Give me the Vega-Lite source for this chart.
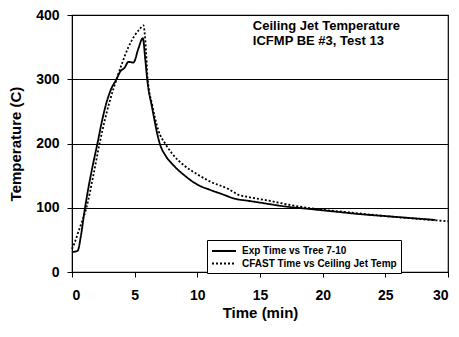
{
  "$schema": "https://vega.github.io/schema/vega-lite/v6.json",
  "width": 376,
  "height": 257,
  "autosize": "none",
  "padding": {"left": 72, "top": 15, "right": 11, "bottom": 65},
  "background": "white",
  "config": {
    "font": "Liberation Sans",
    "view": {"stroke": "black", "strokeWidth": 1.2},
    "axis": {"labelFont": "Liberation Sans", "titleFont": "Liberation Sans", "labelColor": "black", "titleColor": "black", "domainColor": "black", "tickColor": "black", "labelFontSize": 14, "labelFontWeight": "bold", "titleFontSize": 15, "titleFontWeight": "bold"}
  },
  "datasets": {
    "curves": [
      {"series": "Exp Time vs Tree 7-10", "t": 0, "T": 31},
      {"series": "Exp Time vs Tree 7-10", "t": 0.45, "T": 33},
      {"series": "Exp Time vs Tree 7-10", "t": 0.7, "T": 55},
      {"series": "Exp Time vs Tree 7-10", "t": 1.0, "T": 95},
      {"series": "Exp Time vs Tree 7-10", "t": 1.3, "T": 130},
      {"series": "Exp Time vs Tree 7-10", "t": 1.7, "T": 170},
      {"series": "Exp Time vs Tree 7-10", "t": 2.03, "T": 200},
      {"series": "Exp Time vs Tree 7-10", "t": 2.35, "T": 231},
      {"series": "Exp Time vs Tree 7-10", "t": 2.7, "T": 260},
      {"series": "Exp Time vs Tree 7-10", "t": 3.15, "T": 286},
      {"series": "Exp Time vs Tree 7-10", "t": 3.55, "T": 300},
      {"series": "Exp Time vs Tree 7-10", "t": 3.85, "T": 312},
      {"series": "Exp Time vs Tree 7-10", "t": 4.2, "T": 318},
      {"series": "Exp Time vs Tree 7-10", "t": 4.5, "T": 327},
      {"series": "Exp Time vs Tree 7-10", "t": 4.9, "T": 326},
      {"series": "Exp Time vs Tree 7-10", "t": 5.3, "T": 348},
      {"series": "Exp Time vs Tree 7-10", "t": 5.65, "T": 364},
      {"series": "Exp Time vs Tree 7-10", "t": 5.85, "T": 330},
      {"series": "Exp Time vs Tree 7-10", "t": 6.0, "T": 300},
      {"series": "Exp Time vs Tree 7-10", "t": 6.4, "T": 255},
      {"series": "Exp Time vs Tree 7-10", "t": 7.0, "T": 200},
      {"series": "Exp Time vs Tree 7-10", "t": 7.5, "T": 180},
      {"series": "Exp Time vs Tree 7-10", "t": 8.0, "T": 168},
      {"series": "Exp Time vs Tree 7-10", "t": 9.0, "T": 150},
      {"series": "Exp Time vs Tree 7-10", "t": 10.0, "T": 136},
      {"series": "Exp Time vs Tree 7-10", "t": 11.0, "T": 128},
      {"series": "Exp Time vs Tree 7-10", "t": 12.0, "T": 121},
      {"series": "Exp Time vs Tree 7-10", "t": 13.0, "T": 114},
      {"series": "Exp Time vs Tree 7-10", "t": 14.0, "T": 111},
      {"series": "Exp Time vs Tree 7-10", "t": 15.0, "T": 108},
      {"series": "Exp Time vs Tree 7-10", "t": 17.0, "T": 102},
      {"series": "Exp Time vs Tree 7-10", "t": 19.0, "T": 98},
      {"series": "Exp Time vs Tree 7-10", "t": 21.0, "T": 94},
      {"series": "Exp Time vs Tree 7-10", "t": 23.0, "T": 90},
      {"series": "Exp Time vs Tree 7-10", "t": 25.0, "T": 87},
      {"series": "Exp Time vs Tree 7-10", "t": 27.0, "T": 84},
      {"series": "Exp Time vs Tree 7-10", "t": 29.0, "T": 81},
      {"series": "CFAST Time vs Ceiling Jet Temp", "t": 0, "T": 36},
      {"series": "CFAST Time vs Ceiling Jet Temp", "t": 0.2, "T": 45},
      {"series": "CFAST Time vs Ceiling Jet Temp", "t": 0.5, "T": 62},
      {"series": "CFAST Time vs Ceiling Jet Temp", "t": 0.75, "T": 76},
      {"series": "CFAST Time vs Ceiling Jet Temp", "t": 1.15, "T": 100},
      {"series": "CFAST Time vs Ceiling Jet Temp", "t": 1.7, "T": 150},
      {"series": "CFAST Time vs Ceiling Jet Temp", "t": 2.2, "T": 200},
      {"series": "CFAST Time vs Ceiling Jet Temp", "t": 2.6, "T": 235},
      {"series": "CFAST Time vs Ceiling Jet Temp", "t": 3.0, "T": 265},
      {"series": "CFAST Time vs Ceiling Jet Temp", "t": 3.55, "T": 300},
      {"series": "CFAST Time vs Ceiling Jet Temp", "t": 4.0, "T": 325},
      {"series": "CFAST Time vs Ceiling Jet Temp", "t": 4.5, "T": 350},
      {"series": "CFAST Time vs Ceiling Jet Temp", "t": 5.0, "T": 368},
      {"series": "CFAST Time vs Ceiling Jet Temp", "t": 5.4, "T": 378},
      {"series": "CFAST Time vs Ceiling Jet Temp", "t": 5.7, "T": 384},
      {"series": "CFAST Time vs Ceiling Jet Temp", "t": 5.85, "T": 360},
      {"series": "CFAST Time vs Ceiling Jet Temp", "t": 6.04, "T": 300},
      {"series": "CFAST Time vs Ceiling Jet Temp", "t": 6.4, "T": 260},
      {"series": "CFAST Time vs Ceiling Jet Temp", "t": 6.9, "T": 220},
      {"series": "CFAST Time vs Ceiling Jet Temp", "t": 7.5, "T": 198},
      {"series": "CFAST Time vs Ceiling Jet Temp", "t": 8.0, "T": 184},
      {"series": "CFAST Time vs Ceiling Jet Temp", "t": 9.0, "T": 165},
      {"series": "CFAST Time vs Ceiling Jet Temp", "t": 10.0, "T": 152},
      {"series": "CFAST Time vs Ceiling Jet Temp", "t": 11.0, "T": 141},
      {"series": "CFAST Time vs Ceiling Jet Temp", "t": 12.5, "T": 129},
      {"series": "CFAST Time vs Ceiling Jet Temp", "t": 13.3, "T": 120},
      {"series": "CFAST Time vs Ceiling Jet Temp", "t": 14.0, "T": 117},
      {"series": "CFAST Time vs Ceiling Jet Temp", "t": 15.7, "T": 111},
      {"series": "CFAST Time vs Ceiling Jet Temp", "t": 17.5, "T": 104},
      {"series": "CFAST Time vs Ceiling Jet Temp", "t": 19.5, "T": 98},
      {"series": "CFAST Time vs Ceiling Jet Temp", "t": 22.0, "T": 93},
      {"series": "CFAST Time vs Ceiling Jet Temp", "t": 25.0, "T": 87},
      {"series": "CFAST Time vs Ceiling Jet Temp", "t": 28.0, "T": 82},
      {"series": "CFAST Time vs Ceiling Jet Temp", "t": 30.0, "T": 79}
    ],
    "note": [
      {"label": "Ceiling Jet Temperature / ICFMP BE #3, Test 13"}
    ]
  },
  "layer": [
    {
      "data": {"name": "curves"},
      "mark": {"type": "line", "color": "black", "strokeWidth": 1.8, "interpolate": "monotone"},
      "encoding": {
        "x": {
          "field": "t", "type": "quantitative", "title": "Time (min)",
          "scale": {"domain": [0, 30], "nice": false},
          "axis": {"values": [0, 5, 10, 15, 20, 25, 30], "grid": false, "tickSize": 5, "labelPadding": 11, "titleBaseline": "alphabetic", "titleY": 45}
        },
        "y": {
          "field": "T", "type": "quantitative", "title": "Temperature (C)",
          "scale": {"domain": [0, 400], "nice": false},
          "axis": {"values": [0, 100, 200, 300, 400], "grid": true, "gridColor": "black", "gridOpacity": 1, "gridWidth": 1, "tickSize": 5, "labelPadding": 8, "titleX": -57, "titleBaseline": "middle"}
        },
        "strokeDash": {
          "field": "series", "type": "nominal",
          "scale": {"domain": ["Exp Time vs Tree 7-10", "CFAST Time vs Ceiling Jet Temp"], "range": [[1, 0], [2, 2]]},
          "legend": {
            "title": null, "orient": "none", "legendX": 135, "legendY": 225,
            "direction": "vertical",
            "strokeColor": "black", "fillColor": "white", "padding": 4,
            "symbolType": "M-1,0H3", "symbolStrokeColor": "black", "symbolStrokeWidth": 1.8, "symbolSize": 144,
            "labelOffset": 17,
            "labelFont": "Liberation Sans", "labelFontSize": 10, "labelFontWeight": "bold", "labelColor": "black", "labelLimit": 300, "rowPadding": 0.5
          }
        }
      }
    },
    {
      "data": {"name": "note"},
      "mark": {"type": "text", "align": "left", "baseline": "alphabetic", "font": "Liberation Sans", "fontSize": 13, "fontWeight": "bold", "lineHeight": 15.6, "color": "black"},
      "encoding": {
        "x": {"datum": 14.43, "type": "quantitative"},
        "y": {"datum": 377, "type": "quantitative"},
        "text": {"value": ["Ceiling Jet Temperature", "ICFMP BE #3, Test 13"]}
      }
    }
  ]
}
